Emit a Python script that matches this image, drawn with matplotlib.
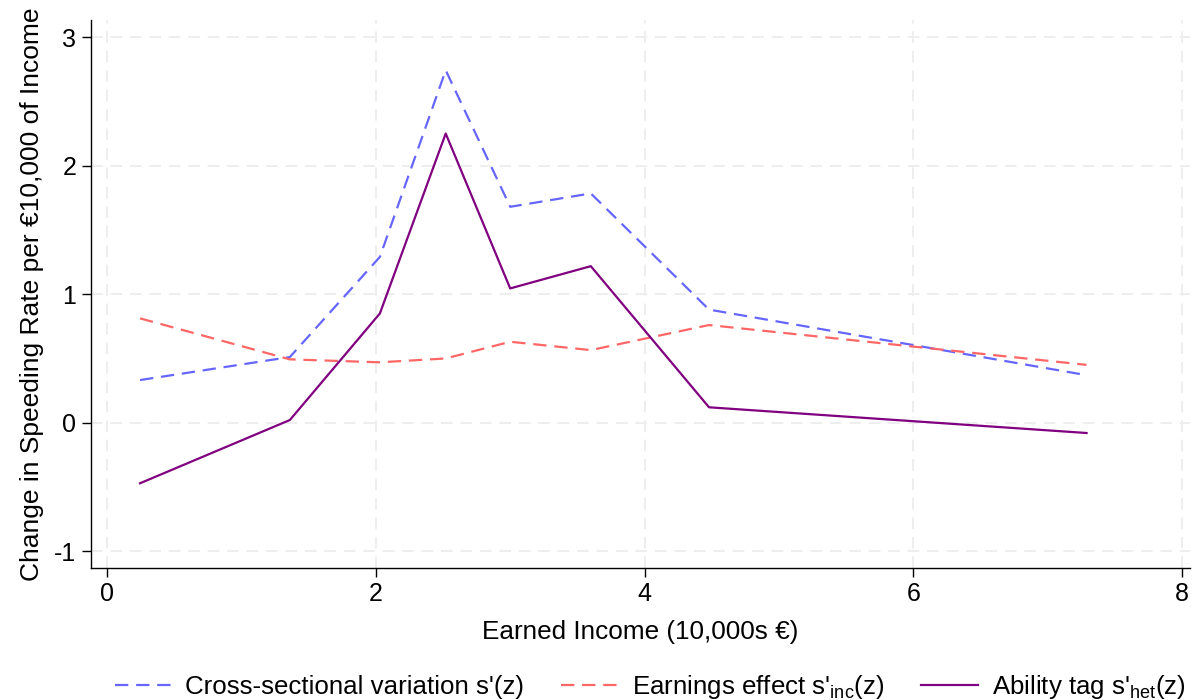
import matplotlib
matplotlib.use("Agg")
import matplotlib.pyplot as plt
from matplotlib.lines import Line2D

# Earned income bins (10,000s EUR) and the speeding-rate gradients per bin
income = [0.245, 1.36, 2.03, 2.52, 3.00, 3.60, 4.48, 7.29]
cross_sectional = [0.332, 0.511, 1.29, 2.742, 1.68, 1.784, 0.88, 0.37]
earnings_effect = [0.812, 0.493, 0.47, 0.50, 0.63, 0.565, 0.76, 0.45]
ability_tag = [-0.471, 0.021, 0.85, 2.25, 1.045, 1.218, 0.12, -0.08]

x_ticks = [0, 2, 4, 6, 8]
y_ticks = [-1, 0, 1, 2, 3]

series_labels = [
    "Cross-sectional variation s'(z)",
    "Earnings effect s'$_{\\mathregular{inc}}$(z)",
    "Ability tag s'$_{\\mathregular{het}}$(z)",
]

plt.rcParams["font.family"] = ["Liberation Sans", "DejaVu Sans"]
plt.rcParams["mathtext.default"] = "regular"

BLUE = "#6666ff"
RED = "#ff6666"
PURPLE = "#800080"

fig = plt.figure(figsize=(11.93, 7.0), dpi=100)
ax = fig.add_axes([0.0763, 0.189, 0.9212, 0.782])

ax.plot(income, cross_sectional, color=BLUE, lw=1.6, dashes=(6, 3.5))
ax.plot(income, earnings_effect, color=RED, lw=1.6, dashes=(6, 3.5))
ax.plot(income, ability_tag, color=PURPLE, lw=1.6)

ax.set_xlim(-0.12, 8.06)
ax.set_ylim(-1.128, 3.131)
ax.set_xticks(x_ticks)
ax.set_yticks(y_ticks)
ax.set_xticklabels([str(t) for t in x_ticks])
ax.set_yticklabels([str(t) for t in y_ticks])

ax.grid(True, color="#eeeeee", lw=1.4, dashes=(6, 4))
ax.set_axisbelow(True)
for side in ("top", "right"):
    ax.spines[side].set_visible(False)
for side in ("left", "bottom"):
    ax.spines[side].set_linewidth(1.0)
ax.tick_params(axis="both", direction="out", length=6.5, width=1.0,
               labelsize=18, pad=4)

ax.set_xlabel("Earned Income (10,000s €)", fontsize=18.8, labelpad=10)
ax.set_ylabel("Change in Speeding Rate per €10,000 of Income", fontsize=19,
              labelpad=7)

handles = [
    Line2D([], [], color=BLUE, lw=1.6, dashes=(6, 3.5)),
    Line2D([], [], color=RED, lw=1.6, dashes=(6, 3.5)),
    Line2D([], [], color=PURPLE, lw=1.6),
]
fig.legend(handles, series_labels, loc="lower center", ncol=3, frameon=False,
           fontsize=18.6, handlelength=2.17, handletextpad=0.55,
           columnspacing=1.45, bbox_to_anchor=(0.545, -0.034))

fig.savefig("out.png", dpi=100)
